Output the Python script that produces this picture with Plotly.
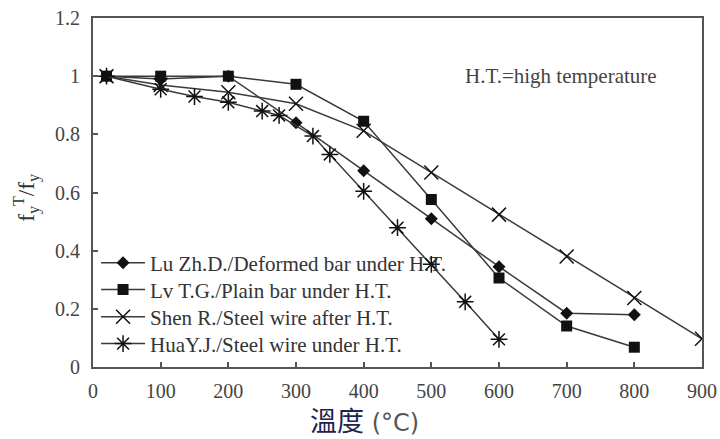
import plotly.graph_objects as go

# Temperature (°C) and normalised yield strength f_y^T / f_y for each study
lu_temp = [20, 100, 200, 300, 400, 500, 600, 700, 800]
lu_ratio = [1.0, 0.99, 1.0, 0.84, 0.675, 0.51, 0.345, 0.185, 0.18]

lv_temp = [20, 100, 200, 300, 400, 500, 600, 700, 800]
lv_ratio = [1.0, 1.0, 1.0, 0.972, 0.845, 0.576, 0.306, 0.141, 0.068]

shen_temp = [20, 100, 200, 300, 400, 500, 600, 700, 800, 900]
shen_ratio = [1.0, 0.97, 0.945, 0.905, 0.812, 0.669, 0.524, 0.38, 0.237, 0.097]

hua_temp = [20, 100, 150, 200, 250, 275, 325, 350, 400, 450, 500, 550, 600]
hua_ratio = [1.0, 0.955, 0.93, 0.91, 0.88, 0.865, 0.794, 0.731, 0.604, 0.479, 0.353, 0.224, 0.095]

series_names = [
    "Lu Zh.D./Deformed bar under H.T.",
    "Lv T.G./Plain bar under H.T.",
    "Shen R./Steel wire after H.T.",
    "HuaY.J./Steel wire under H.T.",
]

x_ticks = [0, 100, 200, 300, 400, 500, 600, 700, 800, 900]
y_ticks = [0, 0.2, 0.4, 0.6, 0.8, 1, 1.2]
y_tick_text = ["0", "0.2", "0.4", "0.6", "0.8", "1", "1.2"]

LINE = "#3a3a3a"
MARK = "#111111"
SERIF = "Liberation Serif"

# one single-entry legend per series so the rows can be packed tightly
legend_ids = ["legend", "legend2", "legend3", "legend4"]
legend_rows = [0.298, 0.221, 0.143, 0.066]

series = [
    (lu_temp, lu_ratio, dict(symbol="diamond", size=10, color=MARK)),
    (lv_temp, lv_ratio, dict(symbol="square", size=11, color=MARK)),
    (shen_temp, shen_ratio, dict(symbol="x-thin-open", size=14, color=MARK,
                                 line=dict(width=1.5, color=MARK))),
    (hua_temp, hua_ratio, dict(symbol="asterisk-open", size=14, color=MARK,
                               line=dict(width=1.5, color=MARK))),
]

fig = go.Figure()
for (xs, ys, mk), name, lg in zip(series, series_names, legend_ids):
    fig.add_trace(go.Scatter(
        x=xs, y=ys, name=name, mode="lines+markers", legend=lg,
        line=dict(color=LINE, width=1.5), marker=mk,
    ))

axis_common = dict(
    showline=True, linecolor="#555555", linewidth=2, mirror=True,
    ticks="inside", ticklen=5, tickcolor="#555555", tickwidth=1.5,
    showgrid=False, zeroline=False, automargin=False,
    tickfont=dict(family=SERIF, size=20, color="#444444"),
)

fig.update_xaxes(range=[0, 900], tickvals=x_ticks, ticklabelstandoff=5, **axis_common)
fig.update_yaxes(range=[0, 1.2], tickvals=y_ticks, ticktext=y_tick_text,
                 ticklabelstandoff=7, **axis_common)

legend_style = dict(
    x=0.005, xanchor="left", yanchor="middle",
    bgcolor="rgba(255,255,255,0)",
    font=dict(family=SERIF, size=21, color="#333333"),
    itemwidth=44,
)
fig.update_layout(**{lg: dict(y=yv, **legend_style) for lg, yv in zip(legend_ids, legend_rows)})

fig.update_layout(
    width=720, height=439,
    margin=dict(l=93, r=18, t=18, b=72),
    plot_bgcolor="white", paper_bgcolor="white",
    font=dict(family=SERIF),
    showlegend=True,
    annotations=[
        dict(text="H.T.=high temperature", x=0.768, y=1.0, xref="paper", yref="y",
             xanchor="center", yanchor="middle", showarrow=False,
             font=dict(family=SERIF, size=21, color="#444444")),
        dict(text="f<sub>y</sub><sup>T</sup>/f<sub>y</sub>", x=-0.11, y=0.485,
             xref="paper", yref="paper", textangle=-90, showarrow=False,
             xanchor="center", yanchor="middle",
             font=dict(family=SERIF, size=23, color="#333333")),
        dict(text="<span style='font-family:Noto Sans CJK TC;font-size:27px;color:#1c2450'>溫度</span>"
                  " <span style='font-size:24px'>(°C)</span>",
             x=0.445, y=-0.151, xref="paper", yref="paper",
             xanchor="center", yanchor="middle", showarrow=False,
             font=dict(family="DejaVu Sans", size=24, color="#555555")),
    ],
)

fig.write_html("out.html")
